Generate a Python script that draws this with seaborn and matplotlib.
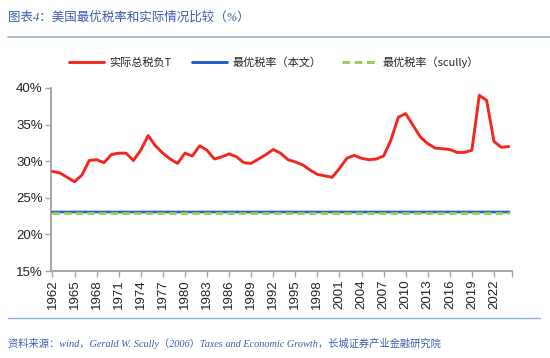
import numpy as np
import pandas as pd
import matplotlib
matplotlib.use("Agg")
import matplotlib.pyplot as plt
import seaborn as sns
from matplotlib.lines import Line2D

years = list(range(1962, 2025))
actual_tax = [28.6, 28.4, 27.8, 27.2, 28.1, 30.1, 30.2, 29.8, 30.9, 31.1,
              31.1, 30.1, 31.5, 33.5, 32.1, 31.1, 30.3, 29.7, 31.1, 30.7,
              32.1, 31.5, 30.3, 30.6, 31.0, 30.6, 29.8, 29.7, 30.3, 30.9,
              31.6, 31.1, 30.2, 29.9, 29.5, 28.8, 28.2, 28.0, 27.8, 29.0,
              30.4, 30.8, 30.4, 30.2, 30.3, 30.7, 32.9, 36.0, 36.5, 34.9,
              33.3, 32.4, 31.8, 31.7, 31.6, 31.2, 31.2, 31.5, 39.0, 38.3,
              32.7, 31.9, 32.0]
optimal_this = 23.1
optimal_scully = 22.95
series_names = ["实际总税负T", "最优税率（本文）", "最优税率（scully）"]
tick_years = list(range(1962, 2023, 3))
y_ticks = [15, 20, 25, 30, 35, 40]
title_text = "图表4：美国最优税率和实际情况比较（%）"
source_text = "资料来源：wind，Gerald W. Scully（2006）Taxes and Economic Growth，长城证券产业金融研究院"

sns.set_theme(style="white")
plt.rcParams['font.family'] = ['Liberation Sans', 'Noto Sans CJK SC', 'DejaVu Sans']

df = pd.DataFrame({
    "year": years,
    "actual": actual_tax,
    "opt_this": [optimal_this] * len(years),
    "opt_scully": [optimal_scully] * len(years),
})

fig = plt.figure(figsize=(5.5, 3.58), dpi=100)
ax = fig.add_axes([51/550, 1 - 271/358, (512 - 51)/550, (271 - 88)/358])

red = "#F0281E"
blue = "#1F5CC4"
green = "#92D050"

sns.lineplot(data=df, x="year", y="opt_this", ax=ax, color="#9DB9E8", lw=2.6, zorder=2)
sns.lineplot(data=df, x="year", y="opt_this", ax=ax, color=blue, lw=1.3, zorder=3)
sns.lineplot(data=df, x="year", y="opt_scully", ax=ax, color=green, lw=2.0,
             zorder=4).lines[-1].set_dashes([2.6, 1.6])
sns.lineplot(data=df, x="year", y="actual", ax=ax, color=red, lw=2.1, zorder=5)

ax.set_xlim(1961.8, 2024.45)
ax.set_ylim(15, 40)
ax.set_xticks(tick_years + [2024.45])
ax.set_xticklabels([str(y) for y in tick_years] + [""], rotation=90, fontsize=9.5, color="#222222")
ax.set_yticks(y_ticks)
ax.set_yticklabels([f"{v}%" for v in y_ticks], fontsize=9.5, color="#222222")
ax.set_xlabel("")
ax.set_ylabel("")
for s in ["top", "right"]:
    ax.spines[s].set_visible(False)
for s in ["left", "bottom"]:
    ax.spines[s].set_color("#A6A6A6")
    ax.spines[s].set_linewidth(1.4)
ax.tick_params(axis="both", which="both", direction="out", length=4, width=1.0,
               color="#A6A6A6", pad=2, bottom=True, left=True)

# legend
handles = [
    Line2D([], [], color=red, lw=2.1),
    Line2D([], [], color=blue, lw=2.1),
    Line2D([], [], color=green, lw=2.1, dashes=[2.6, 1.6]),
]
fig.legend(handles, series_names, loc="center", bbox_to_anchor=(0.498, 1 - 62/358),
           ncol=3, frameon=False, handlelength=3.15, columnspacing=1.9,
           handletextpad=0.45, prop={'family': ['Noto Sans CJK SC', 'DejaVu Sans'], 'size': 8})

title_color = "#3A5DAA"
fig.text(8/550, 1 - 18/358, title_text, fontsize=9, color=title_color, style="italic",
         va="center", ha="left", family=['Liberation Serif', 'Noto Sans CJK SC'])
fig.add_artist(Line2D([8/550, 1.0], [1 - 37/358, 1 - 37/358], color="#9FB3DA", lw=1.2))
fig.add_artist(Line2D([8/550, 540/550], [1 - 318/358, 1 - 318/358], color="#8FA8DC", lw=1.0))
fig.text(8/550, 1 - 343/358, source_text, fontsize=7.4, color=title_color, style="italic",
         va="center", ha="left", family=['Liberation Serif', 'Noto Sans CJK SC'])

fig.savefig("out.png", dpi=100, facecolor="white")
